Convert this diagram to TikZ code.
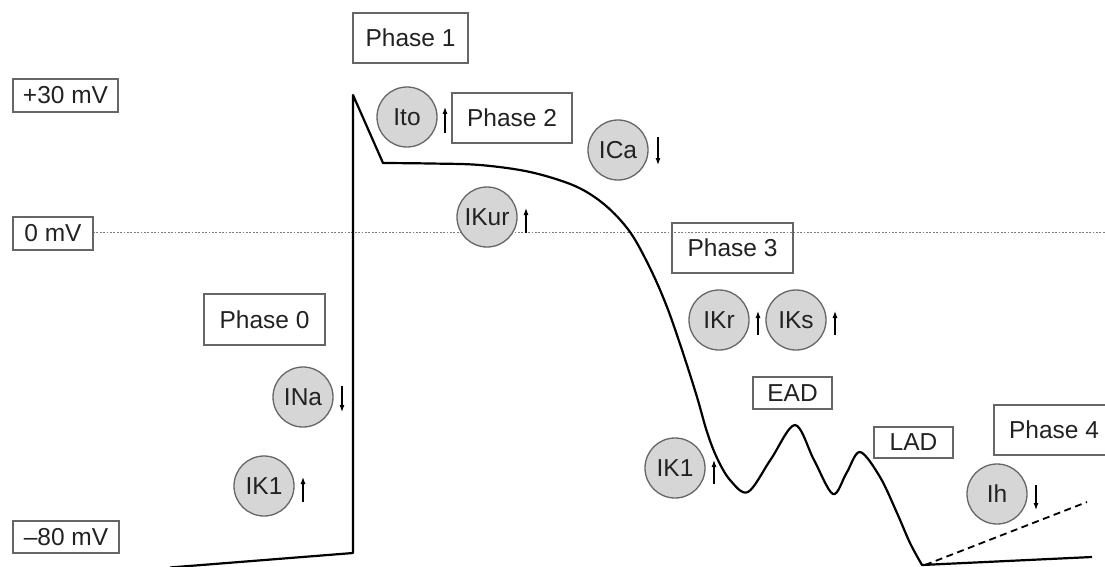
\documentclass[tikz,border=0pt]{standalone}
\usepackage{fontspec}
\setmainfont{Liberation Sans}
\usetikzlibrary{arrows.meta}
\definecolor{txt}{HTML}{222222}
\definecolor{edge}{HTML}{666666}
\definecolor{cfill}{HTML}{D6D6D6}
\definecolor{zline}{HTML}{7A7A7A}
\tikzset{
  lbl/.style={draw=edge, line width=1.3pt, rectangle, inner sep=0pt, text=txt,
    font=\fontsize{24.5}{29}\selectfont},
  ion/.style={circle, draw=edge, fill=cfill, line width=1.3pt, minimum size=60pt,
    inner sep=0pt, text=txt, font=\fontsize{24.5}{29}\selectfont},
  flow/.style={-{Latex[length=7pt,width=5pt]}, line width=1.1pt, black},
  ap/.style={line width=2.2pt, line join=round, black},
  zero/.style={line width=1.6pt, zline, dash pattern=on 1.8pt off 1.6pt},
  ihline/.style={line width=1.8pt, black, dash pattern=on 7pt off 4.5pt}
}
\begin{document}
\begin{tikzpicture}[x=1pt, y=-1pt]
\useasboundingbox (0,0) rectangle (1105,567);
\clip (0,0) rectangle (1105,567);

% zero-mV reference line
\coordinate (z0) at (93,232.5);
\coordinate (z1) at (1105,232.5);
\draw[zero] (z0) -- (z1);

% action potential
\coordinate (b0) at (170,567.5);
\coordinate (b1) at (353,553);
\coordinate (top) at (353,95);
\coordinate (notch) at (383,163);
\coordinate (tail) at (1092,557);
\draw[ap] (b0) -- (b1) -- (top) -- (notch)
  -- plot[smooth, tension=0.55] coordinates {
    (383,163) (430,163.5) (480,165) (530,172) (575,186) (605,205) (630,232)
    (650,268) (667,307) (683,353) (697,397) (707,432) (717,458) (730,480)
    (748,492) (771,459) (795,425) (814,460) (833,494) (846.5,473) (860,452)
    (880,477) (897,513) (910,543) (922,565)}
  -- (tail);

% pacemaker (Ih) dashed line
\coordinate (d0) at (925,565);
\coordinate (d1) at (1087,502);
\draw[ihline] (d0) -- (d1);

% voltage labels
\node[lbl, minimum width=105pt, minimum height=33pt] (v30) at (65.5,95.5) {+30 mV};
\node[lbl, minimum width=80pt, minimum height=33pt] (v0) at (53,233.5) {0 mV};
\node[lbl, minimum width=106pt, minimum height=32pt] (v80) at (66,537) {--80 mV};

% phase labels
\node[lbl, minimum width=115pt, minimum height=50pt] (ph1) at (410.5,38) {Phase 1};
\node[lbl, minimum width=120pt, minimum height=50pt] (ph2) at (512,118) {Phase 2};
\node[lbl, minimum width=121pt, minimum height=51pt] (ph0) at (264.5,319.5) {Phase 0};
\node[lbl, minimum width=121pt, minimum height=50pt] (ph3) at (732.5,248) {Phase 3};
\node[lbl, minimum width=79pt, minimum height=32pt] (ead) at (792.5,393) {EAD};
\node[lbl, minimum width=79pt, minimum height=31pt] (lad) at (913.5,442.5) {LAD};
\node[lbl, minimum width=120pt, minimum height=50pt] (ph4) at (1054,430) {Phase 4};

% ionic currents
\node[ion] (ito) at (407,117) {Ito};
\node[ion] (ica) at (618,150) {ICa};
\node[ion] (ikur) at (487,217) {IKur};
\node[ion] (ikr) at (719,320) {IKr};
\node[ion] (iks) at (796,320) {IKs};
\node[ion] (ina) at (303,397) {INa};
\node[ion] (ika) at (264,486) {IK1};
\node[ion] (ikb) at (675,468) {IK1};
\node[ion] (ih) at (997,494) {Ih};

% direction arrows
\coordinate (ito0) at (445,133);  \coordinate (ito1) at (445,107);
\coordinate (ica0) at (658,137);  \coordinate (ica1) at (658,165);
\coordinate (ikur0) at (526,233); \coordinate (ikur1) at (526,208);
\coordinate (ikr0) at (758,335);  \coordinate (ikr1) at (758,311);
\coordinate (iks0) at (835,335);  \coordinate (iks1) at (835,311);
\coordinate (ina0) at (342,386);  \coordinate (ina1) at (342,412);
\coordinate (ika0) at (303,502);  \coordinate (ika1) at (303,477);
\coordinate (ikb0) at (714,484);  \coordinate (ikb1) at (714,460);
\coordinate (ih0) at (1036,485); \coordinate (ih1) at (1036,510);
\draw[flow] (ito0) -- (ito1);
\draw[flow] (ica0) -- (ica1);
\draw[flow] (ikur0) -- (ikur1);
\draw[flow] (ikr0) -- (ikr1);
\draw[flow] (iks0) -- (iks1);
\draw[flow] (ina0) -- (ina1);
\draw[flow] (ika0) -- (ika1);
\draw[flow] (ikb0) -- (ikb1);
\draw[flow] (ih0) -- (ih1);
\end{tikzpicture}
\end{document}
